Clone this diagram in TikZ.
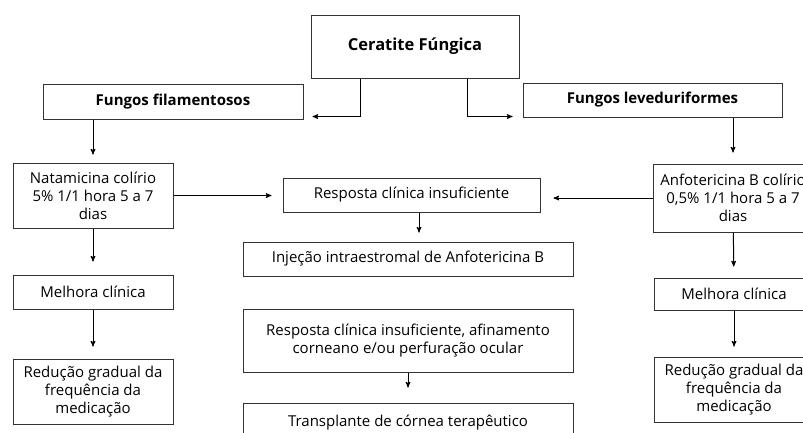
\documentclass[tikz,border=0pt]{standalone}
\usepackage{fontspec}
\setmainfont{Open Sans}
\usetikzlibrary{arrows,calc}

\begin{document}
\begin{tikzpicture}[x=1pt,y=-1pt,->,>=stealth',line width=1pt,
	box/.style={draw=black!80,-,align=center,inner sep=1pt,font=\fontsize{15}{18}\selectfont},
	head box/.style={box,font=\fontsize{15}{18}\selectfont\bfseries}]

	\useasboundingbox (0,0) rectangle (803,432);

	\node[head box,minimum width=208pt,minimum height=63pt,font=\fontsize{16.5}{18}\selectfont\bfseries] (ceratite) at (415,46.5) {Ceratite Fúngica};
	\node[head box,minimum width=260pt,minimum height=35pt] (filam) at (173,101.5) {Fungos filamentosos};
	\node[head box,minimum width=259pt,minimum height=34pt] (leved) at (652.5,100) {Fungos leveduriformes};

	\node[box,minimum width=160pt,minimum height=65pt] (natam) at (93,195.5) {Natamicina colírio\\5\% 1/1 hora 5 a 7\\dias};
	\node[box,minimum width=160pt,minimum height=34pt] (melhoraL) at (93,292) {Melhora clínica};
	\node[box,minimum width=160pt,minimum height=65pt] (reducL) at (93,391.5) {Redução gradual da\\frequência da\\medicação};

	\node[box,minimum width=160pt,minimum height=68pt] (anfo) at (733,198) {Anfotericina B colírio\\0,5\% 1/1 hora 5 a 7\\dias};
	\node[box,minimum width=160pt,minimum height=32pt] (melhoraR) at (734,294) {Melhora clínica};
	\node[box,minimum width=160pt,minimum height=65pt] (reducR) at (734,389.5) {Redução gradual da\\frequência da\\medicação};

	\node[box,minimum width=257pt,minimum height=34pt] (resp) at (411.5,195) {Resposta clínica insuficiente};
	\node[box,minimum width=330pt,minimum height=34pt] (injecao) at (408,259) {Injeção intraestromal de Anfotericina B};
	\node[box,minimum width=330pt,minimum height=63pt] (resp2) at (408,340.5) {Resposta clínica insuficiente, afinamento\\corneano e/ou perfuração ocular};
	\node[box,minimum width=330pt,minimum height=40pt] (transpl) at (408,423) {Transplante de córnea terapêutico};

	% ramos principais
	\draw ([xshift=-55pt]ceratite.south) |- ([xshift=9pt,yshift=3pt]filam.south east);
	\draw ([xshift=52pt]ceratite.south) |- ([xshift=-10pt,yshift=1pt]leved.south west);
	\draw[shorten >=8pt] (filam.south -| natam.north) -- (natam.north);
	\draw[shorten >=11pt] (leved.south -| anfo.north) -- (anfo.north);

	% colunas laterais
	\draw[shorten >=13pt] (natam) -- (melhoraL);
	\draw[shorten >=12pt] (melhoraL) -- (reducL);
	\draw[shorten >=11pt] (anfo) -- (melhoraR);
	\draw[shorten >=10pt] (melhoraR) -- (reducR);

	% coluna central
	\draw[shorten >=11pt] (natam.east) -- (natam.east -| resp.west);
	\draw[shorten >=13pt] (anfo.west) -- (anfo.west -| resp.east);
	\draw[shorten >=9pt] ($(resp.south)+(7.5,0)$) -- ($(resp.south |- injecao.north)+(7.5,0)$);
	\draw[shorten >=15pt] (resp2.south) -- (resp2.south |- transpl.north);
\end{tikzpicture}
\end{document}
